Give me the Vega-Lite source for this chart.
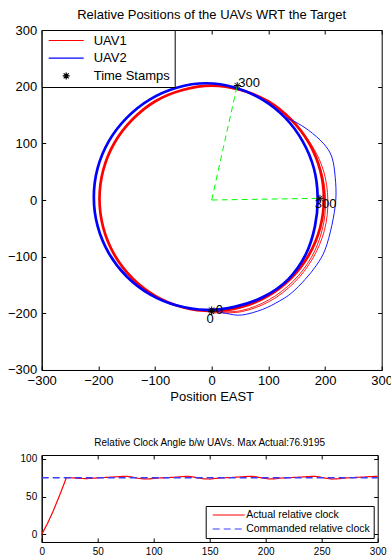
{
  "$schema": "https://vega.github.io/schema/vega-lite/v6.json",
  "padding": {"left": 6.7, "top": 8, "right": 0, "bottom": 0},
  "background": "white",
  "columns": 1,
  "spacing": 32,
  "resolve": {"scale": {"color": "independent", "shape": "independent", "strokeDash": "independent"}, "legend": {"color": "independent", "shape": "independent", "strokeDash": "independent"}},
  "config": {
    "font": "Liberation Sans",
    "view": {"stroke": "black", "strokeWidth": 1},
    "axis": {"domainColor": "black", "tickColor": "black", "labelColor": "black", "titleColor": "black", "grid": false, "labelFont": "Liberation Sans", "titleFont": "Liberation Sans", "titleFontWeight": "normal", "tickSize": -4, "labelFlush": false, "labelOverlap": false},
    "title": {"font": "Liberation Sans", "fontWeight": "normal", "color": "black"},
    "legend": {"labelFont": "Liberation Sans", "labelColor": "black"}
  },
  "datasets": {
    "paths": [
      {"series": "UAV1", "part": "steady", "path": "r0", "ord": 0, "x": 198, "y": 2},
      {"series": "UAV1", "part": "steady", "path": "r0", "ord": 1, "x": 191.3, "y": 53.2},
      {"series": "UAV1", "part": "steady", "path": "r0", "ord": 2, "x": 171.5, "y": 101},
      {"series": "UAV1", "part": "steady", "path": "r0", "ord": 3, "x": 140, "y": 142},
      {"series": "UAV1", "part": "steady", "path": "r0", "ord": 4, "x": 99.5, "y": 174.3},
      {"series": "UAV1", "part": "steady", "path": "r0", "ord": 5, "x": 51.5, "y": 194.2},
      {"series": "UAV1", "part": "steady", "path": "r0", "ord": 6, "x": 0, "y": 202},
      {"series": "UAV1", "part": "steady", "path": "r0", "ord": 7, "x": -51.5, "y": 194.2},
      {"series": "UAV1", "part": "steady", "path": "r0", "ord": 8, "x": -99.5, "y": 174.3},
      {"series": "UAV1", "part": "steady", "path": "r0", "ord": 9, "x": -140, "y": 142},
      {"series": "UAV1", "part": "steady", "path": "r0", "ord": 10, "x": -171.5, "y": 101},
      {"series": "UAV1", "part": "steady", "path": "r0", "ord": 11, "x": -191.3, "y": 53.2},
      {"series": "UAV1", "part": "steady", "path": "r0", "ord": 12, "x": -198, "y": 2},
      {"series": "UAV1", "part": "steady", "path": "r0", "ord": 13, "x": -191.3, "y": -49.2},
      {"series": "UAV1", "part": "steady", "path": "r0", "ord": 14, "x": -171.5, "y": -97},
      {"series": "UAV1", "part": "steady", "path": "r0", "ord": 15, "x": -140, "y": -138},
      {"series": "UAV1", "part": "steady", "path": "r0", "ord": 16, "x": -99, "y": -169.5},
      {"series": "UAV1", "part": "steady", "path": "r0", "ord": 17, "x": -51.2, "y": -189.3},
      {"series": "UAV1", "part": "steady", "path": "r0", "ord": 18, "x": 0, "y": -196},
      {"series": "UAV1", "part": "steady", "path": "r0", "ord": 19, "x": 51.2, "y": -189.3},
      {"series": "UAV1", "part": "steady", "path": "r0", "ord": 20, "x": 99, "y": -169.5},
      {"series": "UAV1", "part": "steady", "path": "r0", "ord": 21, "x": 140, "y": -138},
      {"series": "UAV1", "part": "steady", "path": "r0", "ord": 22, "x": 171.5, "y": -97},
      {"series": "UAV1", "part": "steady", "path": "r0", "ord": 23, "x": 191.3, "y": -49.2},
      {"series": "UAV2", "part": "steady", "path": "b0", "ord": 0, "x": 187, "y": 5},
      {"series": "UAV2", "part": "steady", "path": "b0", "ord": 1, "x": 180.3, "y": 56},
      {"series": "UAV2", "part": "steady", "path": "b0", "ord": 2, "x": 160.6, "y": 103.5},
      {"series": "UAV2", "part": "steady", "path": "b0", "ord": 3, "x": 130, "y": 145},
      {"series": "UAV2", "part": "steady", "path": "b0", "ord": 4, "x": 89.5, "y": 177.3},
      {"series": "UAV2", "part": "steady", "path": "b0", "ord": 5, "x": 41.8, "y": 198.2},
      {"series": "UAV2", "part": "steady", "path": "b0", "ord": 6, "x": -10, "y": 206},
      {"series": "UAV2", "part": "steady", "path": "b0", "ord": 7, "x": -61.8, "y": 198.2},
      {"series": "UAV2", "part": "steady", "path": "b0", "ord": 8, "x": -109.5, "y": 177.3},
      {"series": "UAV2", "part": "steady", "path": "b0", "ord": 9, "x": -150, "y": 145},
      {"series": "UAV2", "part": "steady", "path": "b0", "ord": 10, "x": -181.5, "y": 104},
      {"series": "UAV2", "part": "steady", "path": "b0", "ord": 11, "x": -201.3, "y": 56.2},
      {"series": "UAV2", "part": "steady", "path": "b0", "ord": 12, "x": -208, "y": 5},
      {"series": "UAV2", "part": "steady", "path": "b0", "ord": 13, "x": -201.3, "y": -46.2},
      {"series": "UAV2", "part": "steady", "path": "b0", "ord": 14, "x": -181.5, "y": -94},
      {"series": "UAV2", "part": "steady", "path": "b0", "ord": 15, "x": -150, "y": -135},
      {"series": "UAV2", "part": "steady", "path": "b0", "ord": 16, "x": -109, "y": -166.5},
      {"series": "UAV2", "part": "steady", "path": "b0", "ord": 17, "x": -61.2, "y": -186.3},
      {"series": "UAV2", "part": "steady", "path": "b0", "ord": 18, "x": -10, "y": -194},
      {"series": "UAV2", "part": "steady", "path": "b0", "ord": 19, "x": 41.8, "y": -188.2},
      {"series": "UAV2", "part": "steady", "path": "b0", "ord": 20, "x": 91.5, "y": -170.8},
      {"series": "UAV2", "part": "steady", "path": "b0", "ord": 21, "x": 135, "y": -140},
      {"series": "UAV2", "part": "steady", "path": "b0", "ord": 22, "x": 165.8, "y": -96.5},
      {"series": "UAV2", "part": "steady", "path": "b0", "ord": 23, "x": 182.2, "y": -46.5},
      {"series": "UAV1", "part": "transient", "path": "r1", "ord": 0, "x": 0, "y": -199},
      {"series": "UAV1", "part": "transient", "path": "r1", "ord": 1, "x": 52.8, "y": -197},
      {"series": "UAV1", "part": "transient", "path": "r1", "ord": 2, "x": 103, "y": -178.4},
      {"series": "UAV1", "part": "transient", "path": "r1", "ord": 3, "x": 145.7, "y": -145.7},
      {"series": "UAV1", "part": "transient", "path": "r1", "ord": 4, "x": 178.4, "y": -103},
      {"series": "UAV1", "part": "transient", "path": "r1", "ord": 5, "x": 199, "y": -53.3},
      {"series": "UAV1", "part": "transient", "path": "r1", "ord": 6, "x": 205, "y": 0},
      {"series": "UAV1", "part": "transient", "path": "r1", "ord": 7, "x": 197, "y": 52.8},
      {"series": "UAV1", "part": "transient", "path": "r1", "ord": 8, "x": 174.1, "y": 100.5},
      {"series": "UAV1", "part": "transient", "path": "r1", "ord": 9, "x": 140, "y": 142},
      {"series": "UAV1", "part": "transient", "path": "r2", "ord": 0, "x": 0, "y": -197},
      {"series": "UAV1", "part": "transient", "path": "r2", "ord": 1, "x": 52.3, "y": -195.1},
      {"series": "UAV1", "part": "transient", "path": "r2", "ord": 2, "x": 101.5, "y": -175.8},
      {"series": "UAV1", "part": "transient", "path": "r2", "ord": 3, "x": 143.5, "y": -143.5},
      {"series": "UAV1", "part": "transient", "path": "r2", "ord": 4, "x": 175.8, "y": -101.5},
      {"series": "UAV1", "part": "transient", "path": "r2", "ord": 5, "x": 195.1, "y": -52.3},
      {"series": "UAV1", "part": "transient", "path": "r2", "ord": 6, "x": 201, "y": 0},
      {"series": "UAV1", "part": "transient", "path": "r2", "ord": 7, "x": 193.2, "y": 51.8},
      {"series": "UAV1", "part": "transient", "path": "r2", "ord": 8, "x": 172.3, "y": 99.5},
      {"series": "UAV1", "part": "transient", "path": "r2", "ord": 9, "x": 140, "y": 142},
      {"series": "UAV2", "part": "transient", "path": "b1", "ord": 0, "x": 0, "y": -194},
      {"series": "UAV2", "part": "transient", "path": "b1", "ord": 1, "x": 25, "y": -200},
      {"series": "UAV2", "part": "transient", "path": "b1", "ord": 2, "x": 53, "y": -203},
      {"series": "UAV2", "part": "transient", "path": "b1", "ord": 3, "x": 90, "y": -193},
      {"series": "UAV2", "part": "transient", "path": "b1", "ord": 4, "x": 120, "y": -178},
      {"series": "UAV2", "part": "transient", "path": "b1", "ord": 5, "x": 141, "y": -164},
      {"series": "UAV2", "part": "transient", "path": "b1", "ord": 6, "x": 165, "y": -140},
      {"series": "UAV2", "part": "transient", "path": "b1", "ord": 7, "x": 185, "y": -115},
      {"series": "UAV2", "part": "transient", "path": "b1", "ord": 8, "x": 200, "y": -88},
      {"series": "UAV2", "part": "transient", "path": "b1", "ord": 9, "x": 212, "y": -45},
      {"series": "UAV2", "part": "transient", "path": "b1", "ord": 10, "x": 219, "y": 0},
      {"series": "UAV2", "part": "transient", "path": "b1", "ord": 11, "x": 218, "y": 40},
      {"series": "UAV2", "part": "transient", "path": "b1", "ord": 12, "x": 212, "y": 76},
      {"series": "UAV2", "part": "transient", "path": "b1", "ord": 13, "x": 197, "y": 100},
      {"series": "UAV2", "part": "transient", "path": "b1", "ord": 14, "x": 171, "y": 123},
      {"series": "UAV2", "part": "transient", "path": "b1", "ord": 15, "x": 147, "y": 138},
      {"series": "UAV2", "part": "transient", "path": "b1", "ord": 16, "x": 130, "y": 145}
    ],
    "rays": [
      {"ray": "a", "ord": 0, "x": 0, "y": 0},
      {"ray": "a", "ord": 1, "x": 191, "y": 3},
      {"ray": "b", "ord": 0, "x": 0, "y": 0},
      {"ray": "b", "ord": 1, "x": 45, "y": 202}
    ],
    "stamps": [
      {"series": "Time Stamps", "x": 0, "y": -197},
      {"series": "Time Stamps", "x": 0, "y": -194},
      {"series": "Time Stamps", "x": 45, "y": 202},
      {"series": "Time Stamps", "x": 191, "y": 3}
    ],
    "stampLabels": [
      {"label": "300", "x": 47, "y": 206},
      {"label": "300", "x": 182, "y": -7},
      {"label": "0", "x": 7, "y": -195},
      {"label": "0", "x": -9, "y": -210}
    ],
    "clock": [
      {"series": "Actual relative clock", "t": 0, "angle": 0},
      {"series": "Actual relative clock", "t": 5, "angle": 14},
      {"series": "Actual relative clock", "t": 10, "angle": 30},
      {"series": "Actual relative clock", "t": 15, "angle": 48},
      {"series": "Actual relative clock", "t": 20, "angle": 67},
      {"series": "Actual relative clock", "t": 22, "angle": 75},
      {"series": "Actual relative clock", "t": 25, "angle": 75},
      {"series": "Actual relative clock", "t": 30, "angle": 74.5},
      {"series": "Actual relative clock", "t": 35, "angle": 74},
      {"series": "Actual relative clock", "t": 40, "angle": 73.8},
      {"series": "Actual relative clock", "t": 45, "angle": 74.2},
      {"series": "Actual relative clock", "t": 50, "angle": 74.8},
      {"series": "Actual relative clock", "t": 55, "angle": 75.2},
      {"series": "Actual relative clock", "t": 60, "angle": 75.6},
      {"series": "Actual relative clock", "t": 65, "angle": 76},
      {"series": "Actual relative clock", "t": 70, "angle": 76.5},
      {"series": "Actual relative clock", "t": 75, "angle": 76.9},
      {"series": "Actual relative clock", "t": 80, "angle": 76},
      {"series": "Actual relative clock", "t": 85, "angle": 74.5},
      {"series": "Actual relative clock", "t": 90, "angle": 73.5},
      {"series": "Actual relative clock", "t": 95, "angle": 73.3},
      {"series": "Actual relative clock", "t": 100, "angle": 74},
      {"series": "Actual relative clock", "t": 105, "angle": 74.6},
      {"series": "Actual relative clock", "t": 110, "angle": 75},
      {"series": "Actual relative clock", "t": 115, "angle": 75.3},
      {"series": "Actual relative clock", "t": 120, "angle": 75.7},
      {"series": "Actual relative clock", "t": 125, "angle": 76.3},
      {"series": "Actual relative clock", "t": 130, "angle": 76.9},
      {"series": "Actual relative clock", "t": 135, "angle": 76},
      {"series": "Actual relative clock", "t": 140, "angle": 74.5},
      {"series": "Actual relative clock", "t": 145, "angle": 73.5},
      {"series": "Actual relative clock", "t": 150, "angle": 73.2},
      {"series": "Actual relative clock", "t": 155, "angle": 74},
      {"series": "Actual relative clock", "t": 160, "angle": 74.6},
      {"series": "Actual relative clock", "t": 165, "angle": 75},
      {"series": "Actual relative clock", "t": 170, "angle": 75.3},
      {"series": "Actual relative clock", "t": 175, "angle": 75.8},
      {"series": "Actual relative clock", "t": 180, "angle": 76.3},
      {"series": "Actual relative clock", "t": 187, "angle": 76.9},
      {"series": "Actual relative clock", "t": 192, "angle": 76},
      {"series": "Actual relative clock", "t": 197, "angle": 74.5},
      {"series": "Actual relative clock", "t": 203, "angle": 73.3},
      {"series": "Actual relative clock", "t": 208, "angle": 73.5},
      {"series": "Actual relative clock", "t": 213, "angle": 74.4},
      {"series": "Actual relative clock", "t": 220, "angle": 75},
      {"series": "Actual relative clock", "t": 225, "angle": 75.3},
      {"series": "Actual relative clock", "t": 230, "angle": 75.7},
      {"series": "Actual relative clock", "t": 235, "angle": 76.2},
      {"series": "Actual relative clock", "t": 243, "angle": 76.9},
      {"series": "Actual relative clock", "t": 248, "angle": 76},
      {"series": "Actual relative clock", "t": 253, "angle": 74.5},
      {"series": "Actual relative clock", "t": 259, "angle": 73.2},
      {"series": "Actual relative clock", "t": 264, "angle": 73.5},
      {"series": "Actual relative clock", "t": 270, "angle": 74.4},
      {"series": "Actual relative clock", "t": 275, "angle": 75},
      {"series": "Actual relative clock", "t": 280, "angle": 75.3},
      {"series": "Actual relative clock", "t": 285, "angle": 75.7},
      {"series": "Actual relative clock", "t": 290, "angle": 76.1},
      {"series": "Actual relative clock", "t": 295, "angle": 76.5},
      {"series": "Actual relative clock", "t": 300, "angle": 76.9},
      {"series": "Commanded relative clock", "t": 0, "angle": 75},
      {"series": "Commanded relative clock", "t": 300, "angle": 75}
    ]
  },
  "concat": [
    {
      "resolve": {"scale": {"color": "independent", "shape": "independent"}, "legend": {"color": "independent", "shape": "independent"}},
      "hconcat": [
        {
          "title": {"text": "Relative Positions of the UAVs WRT the Target", "fontSize": 13, "offset": 2},
          "width": 340,
          "height": 340,
          "resolve": {"axis": {"x": "independent", "y": "independent"}},
          "encoding": {
            "x": {"field": "x", "type": "quantitative", "scale": {"domain": [-300, 300], "nice": false}, "axis": null},
            "y": {"field": "y", "type": "quantitative", "scale": {"domain": [-300, 300], "nice": false}, "axis": null},
            "color": {"field": "series", "type": "nominal", "scale": {"domain": ["UAV1", "UAV2", "Time Stamps"], "range": ["#ff0000", "#0000ff", "#000000"]},
              "legend": {"title": null, "orient": "top-left", "offset": 0, "padding": 4, "strokeColor": "black", "fillColor": "white", "cornerRadius": 0, "labelFontSize": 13, "symbolSize": 100, "symbolStrokeWidth": 1.2, "symbolOffset": 14, "labelOffset": 21, "rowPadding": 3.7}}
          },
          "layer": [
            {
              "data": {"name": "paths"},
              "transform": [{"filter": "datum.part === 'steady'"}],
              "mark": {"type": "line", "strokeWidth": 2.7, "interpolate": "cardinal-closed"},
              "encoding": {
                "x": {"field": "x", "type": "quantitative", "scale": {"domain": [-300, 300], "nice": false},
                      "axis": {"title": "Position EAST", "values": [-300, -200, -100, 0, 100, 200, 300], "labelFontSize": 13, "titleFontSize": 13, "labelPadding": 9, "titlePadding": 3}},
                "y": {"field": "y", "type": "quantitative", "scale": {"domain": [-300, 300], "nice": false},
                      "axis": {"title": null, "values": [-300, -200, -100, 0, 100, 200, 300], "labelFontSize": 13, "labelPadding": 9}},
                "detail": {"field": "path"},
                "order": {"field": "ord", "type": "quantitative"}
              }
            },
            {
              "data": {"name": "paths"},
              "transform": [{"filter": "datum.part === 'transient'"}],
              "mark": {"type": "line", "strokeWidth": 0.9, "interpolate": "cardinal"},
              "encoding": {
                "x": {"field": "x", "type": "quantitative", "scale": {"domain": [-300, 300], "nice": false},
                      "axis": {"orient": "top", "title": null, "labels": false, "domain": false, "values": [-300, -200, -100, 0, 100, 200, 300]}},
                "y": {"field": "y", "type": "quantitative", "scale": {"domain": [-300, 300], "nice": false},
                      "axis": {"orient": "right", "title": null, "labels": false, "domain": false, "values": [-300, -200, -100, 0, 100, 200, 300]}},
                "detail": {"field": "path"},
                "order": {"field": "ord", "type": "quantitative"}
              }
            },
            {
              "data": {"name": "rays"},
              "mark": {"type": "line", "strokeWidth": 1, "strokeDash": [6, 4]},
              "encoding": {
                "color": {"value": "#00ff00"},
                "detail": {"field": "ray"},
                "order": {"field": "ord", "type": "quantitative"}
              }
            },
            {
              "data": {"name": "stamps"},
              "mark": {"type": "point", "filled": false, "size": 100, "strokeWidth": 1, "opacity": 1},
              "encoding": {
                "shape": {"field": "series", "type": "nominal", "scale": {"domain": ["UAV1", "UAV2", "Time Stamps"], "range": ["M-3.5,0L3.5,0", "M-3.5,0L3.5,0", "M-0.7,0L0.7,0M0,-0.7L0,0.7M-0.5,-0.5L0.5,0.5M-0.5,0.5L0.5,-0.5"]},
                  "legend": {"title": null, "orient": "top-left", "offset": 0, "padding": 4, "strokeColor": "black", "fillColor": "white", "cornerRadius": 0, "labelFontSize": 13, "symbolSize": 100, "symbolStrokeWidth": 1.2, "symbolOffset": 14, "labelOffset": 21, "rowPadding": 3.7}}
              }
            },
            {
              "data": {"name": "stampLabels"},
              "mark": {"type": "text", "align": "left", "baseline": "middle", "fontSize": 13, "font": "Liberation Sans"},
              "encoding": {"text": {"field": "label"}, "color": {"value": "black"}}
            }
          ]
        }
      ]
    },
    {
      "resolve": {"scale": {"color": "independent", "strokeDash": "independent"}, "legend": {"color": "independent", "strokeDash": "independent"}},
      "hconcat": [
        {
          "title": {"text": "Relative Clock Angle b/w UAVs.  Max Actual:76.9195", "fontSize": 10, "offset": 6},
          "width": 336,
          "height": 87,
          "data": {"name": "clock"},
          "resolve": {"axis": {"x": "independent", "y": "independent"}},
          "encoding": {
            "color": {"field": "series", "type": "nominal", "scale": {"domain": ["Actual relative clock", "Commanded relative clock"], "range": ["#ff0000", "#3a3aff"]},
              "legend": {"title": null, "orient": "bottom-right", "offset": 4, "padding": 3, "strokeColor": "black", "fillColor": "white", "cornerRadius": 0, "labelFontSize": 10.5, "symbolType": "M-3.2,0L3.2,0", "symbolSize": 100, "symbolStrokeWidth": 1.2, "symbolOffset": 14, "labelOffset": 11.5, "rowPadding": 2}},
            "strokeDash": {"field": "series", "type": "nominal", "scale": {"domain": ["Actual relative clock", "Commanded relative clock"], "range": [[1, 0], [7, 4]]},
              "legend": {"title": null, "orient": "bottom-right", "offset": 4, "padding": 3, "strokeColor": "black", "fillColor": "white", "cornerRadius": 0, "labelFontSize": 10.5, "symbolType": "M-3.2,0L3.2,0", "symbolSize": 100, "symbolStrokeWidth": 1.2, "symbolOffset": 14, "labelOffset": 11.5, "rowPadding": 2}}
          },
          "layer": [
            {
              "transform": [{"filter": "datum.series === 'Actual relative clock'"}],
              "mark": {"type": "line", "strokeWidth": 1.2},
              "encoding": {
                "x": {"field": "t", "type": "quantitative", "scale": {"domain": [0, 300], "nice": false},
                      "axis": {"title": null, "values": [0, 50, 100, 150, 200, 250, 300], "labelFontSize": 10, "labelPadding": 9}},
                "y": {"field": "angle", "type": "quantitative", "scale": {"domain": [-10, 105], "nice": false, "zero": false},
                      "axis": {"title": null, "values": [0, 50, 100], "labelFontSize": 10, "labelPadding": 9}}
              }
            },
            {
              "transform": [{"filter": "datum.series === 'Commanded relative clock'"}],
              "mark": {"type": "line", "strokeWidth": 1.4},
              "encoding": {
                "x": {"field": "t", "type": "quantitative", "scale": {"domain": [0, 300], "nice": false},
                      "axis": {"orient": "top", "title": null, "labels": false, "domain": false, "values": [0, 50, 100, 150, 200, 250, 300]}},
                "y": {"field": "angle", "type": "quantitative", "scale": {"domain": [-10, 105], "nice": false, "zero": false},
                      "axis": {"orient": "right", "title": null, "labels": false, "domain": false, "values": [0, 50, 100]}}
              }
            }
          ]
        }
      ]
    }
  ]
}
